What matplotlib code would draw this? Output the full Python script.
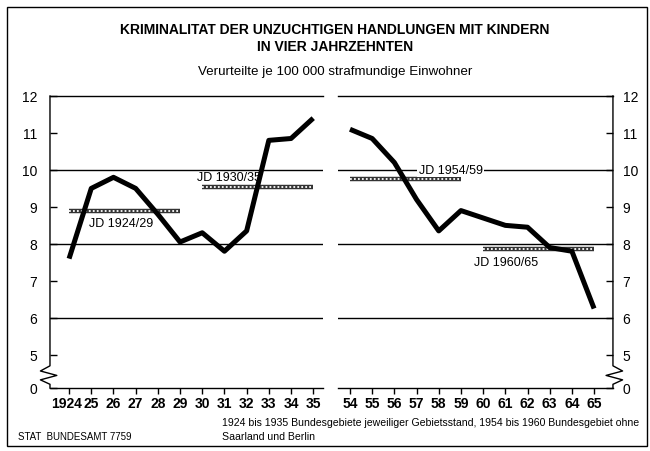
import matplotlib
matplotlib.use('Agg')
import matplotlib.pyplot as plt
from matplotlib.patches import Rectangle
from matplotlib.transforms import ScaledTranslation

plt.rcParams['font.family'] = ['Liberation Sans', 'DejaVu Sans']

# Daten (Verurteilte je 100 000 strafmuendige Einwohner)
jahre_a = [1924, 1925, 1926, 1927, 1928, 1929, 1930, 1931, 1932, 1933, 1934, 1935]
werte_a = [7.6, 9.5, 9.8, 9.5, 8.8, 8.05, 8.3, 7.8, 8.35, 10.8, 10.85, 11.4]
jahre_b = [1954, 1955, 1956, 1957, 1958, 1959, 1960, 1961, 1962, 1963, 1964, 1965]
werte_b = [11.1, 10.85, 10.2, 9.2, 8.35, 8.9, 8.7, 8.5, 8.45, 7.9, 7.8, 6.25]
labels_a = ['1924', '25', '26', '27', '28', '29', '30', '31', '32', '33', '34', '35']
labels_b = ['54', '55', '56', '57', '58', '59', '60', '61', '62', '63', '64', '65']

# Jahresdurchschnitte
jd_namen = ['JD 1924/29', 'JD 1930/35', 'JD 1954/59', 'JD 1960/65']
jd_von = [1924, 1930, 1954, 1960]
jd_bis = [1929, 1935, 1959, 1965]
jd_wert = [8.9, 9.55, 9.75, 7.85]

# Achse ist unterbrochen: 0 sitzt knapp unter 5
null_pos = 4.1
y_ticks = [null_pos, 5, 6, 7, 8, 9, 10, 11, 12]
y_labels = ['0', '5', '6', '7', '8', '9', '10', '11', '12']

fig = plt.figure(figsize=(6.5, 4.52), dpi=100)
ax1 = fig.add_axes([0.0769, 0.1394, 0.42, 0.646])
ax2 = fig.add_axes([0.52, 0.1394, 0.423, 0.646])

ax1.set_xlim(1923.14, 1935.44)
ax2.set_xlim(1953.46, 1965.85)

for ax in (ax1, ax2):
    ax.set_ylim(null_pos, 12)
    for g in (6, 8, 10):
        ax.axhline(g, color='black', lw=1, zorder=1)
    ax.spines['top'].set_linewidth(1)
    ax.spines['bottom'].set_linewidth(1)
    ax.spines['left'].set_visible(False)
    ax.spines['right'].set_visible(False)
    ax.tick_params(axis='x', direction='out', length=4, width=1, pad=2, labelsize=10)

ax1.set_xticks(jahre_a)
ax1.set_xticklabels(labels_a, fontweight='bold')
# "1924" etwas nach links, wie im Original
lab = ax1.get_xticklabels()[0]
lab.set_transform(lab.get_transform() + ScaledTranslation(-3 / 100, 0, fig.dpi_scale_trans))
ax2.set_xticks(jahre_b)
ax2.set_xticklabels(labels_b, fontweight='bold')

ax1.set_yticks(y_ticks)
ax1.set_yticklabels(y_labels)
ax1.tick_params(axis='y', direction='in', length=5, width=1, pad=9, labelsize=10)
ax2.yaxis.tick_right()
ax2.set_yticks(y_ticks)
ax2.set_yticklabels(y_labels)
ax2.tick_params(axis='y', direction='in', length=5, width=1, pad=7, labelsize=10)

# senkrechte Achsen mit Bruchzeichen
def achse_mit_bruch(ax, x, s):
    tr = ax.get_yaxis_transform()
    xs = [x, x, x - 0.035 * s, x + 0.025 * s, x - 0.035 * s, x, x]
    ys = [12, 4.7, 4.56, 4.44, 4.32, 4.2, null_pos]
    ax.plot(xs, ys, color='black', lw=1, transform=tr, clip_on=False, zorder=3)

achse_mit_bruch(ax1, 0, 1)
achse_mit_bruch(ax2, 1, -1)

# Kurven
ax1.plot(jahre_a, werte_a, color='black', lw=3.6, solid_capstyle='butt', zorder=4)
ax2.plot(jahre_b, werte_b, color='black', lw=3.6, solid_capstyle='butt', zorder=4)

# Durchschnittslinien
for i in range(4):
    ax = ax1 if jd_von[i] < 1950 else ax2
    xs = [jd_von[i], jd_bis[i]]
    ys = [jd_wert[i], jd_wert[i]]
    ax.plot(xs, ys, color='#333333', lw=3.2, solid_capstyle='butt', zorder=2)
    ax.plot(xs, ys, color='white', lw=1.3, ls=(0, (1, 1.2)), zorder=2.5)

ax1.text(1924.9, 8.72, jd_namen[0], fontsize=9, va='top', ha='left')
ax1.text(1929.75, 9.65, jd_namen[1], fontsize=9, va='bottom', ha='left')
ax2.text(1957.1, 10.0, jd_namen[2], fontsize=9, va='center', ha='left',
         bbox=dict(facecolor='white', edgecolor='none', pad=1), zorder=3)
ax2.text(1959.6, 7.68, jd_namen[3], fontsize=9, va='top', ha='left')

# Titel
fig.text(0.515, 0.934, 'KRIMINALITAT DER UNZUCHTIGEN HANDLUNGEN MIT KINDERN',
         ha='center', va='center', fontsize=10, fontweight='bold')
fig.text(0.515, 0.896, 'IN VIER JAHRZEHNTEN',
         ha='center', va='center', fontsize=10, fontweight='bold')
fig.text(0.515, 0.841, 'Verurteilte je 100 000 strafmundige Einwohner',
         ha='center', va='center', fontsize=9.6)

# Fussnoten
fig.text(0.342, 0.064, '1924 bis 1935 Bundesgebiete jeweiliger Gebietsstand, 1954 bis 1960 Bundesgebiet ohne',
         ha='left', va='center', fontsize=7.6)
fig.text(0.342, 0.033, 'Saarland und Berlin', ha='left', va='center', fontsize=7.6)
fig.text(0.028, 0.033, 'STAT  BUNDESAMT 7759', ha='left', va='center', fontsize=7)

# Rahmen
fig.patches.append(Rectangle((0.011, 0.011), 0.985, 0.971, transform=fig.transFigure,
                             fill=False, edgecolor='black', lw=1))

fig.savefig('out.png', dpi=100)
